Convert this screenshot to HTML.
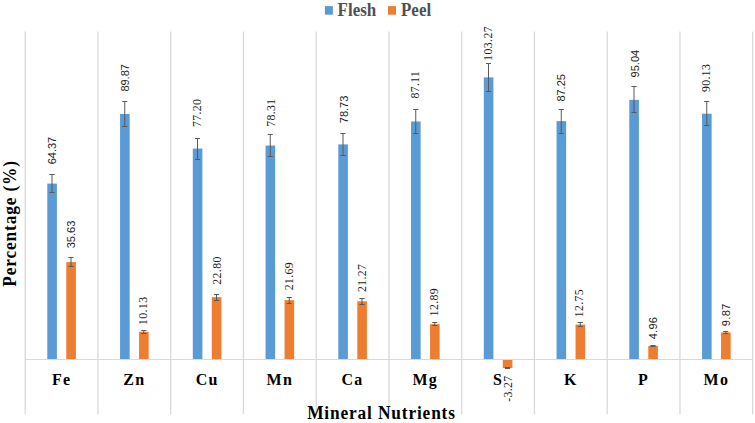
<!DOCTYPE html>
<html lang="en"><head><meta charset="utf-8"><title>Mineral Nutrients chart</title>
<style>html,body{margin:0;padding:0;background:#fff}svg{display:block}</style></head>
<body>
<svg width="755" height="423" viewBox="0 0 755 423">
<rect width="755" height="423" fill="#fff"/>
<g stroke="#D9D9D9" stroke-width="1.3" fill="none">
<line x1="25.20" y1="31.5" x2="25.20" y2="414.3"/>
<line x1="97.95" y1="31.5" x2="97.95" y2="414.3"/>
<line x1="170.70" y1="31.5" x2="170.70" y2="414.3"/>
<line x1="243.45" y1="31.5" x2="243.45" y2="414.3"/>
<line x1="316.20" y1="31.5" x2="316.20" y2="414.3"/>
<line x1="388.95" y1="31.5" x2="388.95" y2="414.3"/>
<line x1="461.70" y1="31.5" x2="461.70" y2="414.3"/>
<line x1="534.45" y1="31.5" x2="534.45" y2="414.3"/>
<line x1="607.20" y1="31.5" x2="607.20" y2="414.3"/>
<line x1="679.95" y1="31.5" x2="679.95" y2="414.3"/>
<line x1="752.70" y1="31.5" x2="752.70" y2="414.3"/>
<line x1="25.20" y1="359.5" x2="752.70" y2="359.5" stroke-width="1"/>
</g>
<rect x="47.30" y="183.61" width="9.6" height="175.39" fill="#5B9BD5"/>
<rect x="66.30" y="262.09" width="9.6" height="96.91" fill="#ED7D31"/>
<rect x="120.05" y="113.97" width="9.6" height="245.03" fill="#5B9BD5"/>
<rect x="139.05" y="331.73" width="9.6" height="27.27" fill="#ED7D31"/>
<rect x="192.80" y="148.57" width="9.6" height="210.43" fill="#5B9BD5"/>
<rect x="211.80" y="297.13" width="9.6" height="61.87" fill="#ED7D31"/>
<rect x="265.55" y="145.54" width="9.6" height="213.46" fill="#5B9BD5"/>
<rect x="284.55" y="300.16" width="9.6" height="58.84" fill="#ED7D31"/>
<rect x="338.30" y="144.39" width="9.6" height="214.61" fill="#5B9BD5"/>
<rect x="357.30" y="301.31" width="9.6" height="57.69" fill="#ED7D31"/>
<rect x="411.05" y="121.50" width="9.6" height="237.50" fill="#5B9BD5"/>
<rect x="430.05" y="324.20" width="9.6" height="34.80" fill="#ED7D31"/>
<rect x="483.80" y="77.37" width="9.6" height="281.63" fill="#5B9BD5"/>
<rect x="502.80" y="360" width="9.6" height="8.03" fill="#ED7D31"/>
<rect x="556.55" y="121.12" width="9.6" height="237.88" fill="#5B9BD5"/>
<rect x="575.55" y="324.58" width="9.6" height="34.42" fill="#ED7D31"/>
<rect x="629.30" y="99.85" width="9.6" height="259.15" fill="#5B9BD5"/>
<rect x="648.30" y="345.85" width="9.6" height="13.15" fill="#ED7D31"/>
<rect x="702.05" y="113.69" width="9.6" height="245.31" fill="#5B9BD5"/>
<rect x="721.05" y="332.45" width="9.6" height="26.55" fill="#ED7D31"/>
<g stroke="#595959" stroke-width="1" fill="none">
<path d="M52.00 174.50V192.50M49.45 174.50h5.1M49.45 192.50h5.1"/>
<path d="M71.00 257.50V266.50M68.45 257.50h5.1M68.45 266.50h5.1"/>
<path d="M124.75 101.50V126.50M122.20 101.50h5.1M122.20 126.50h5.1"/>
<path d="M143.75 330.50V333.50M141.20 330.50h5.1M141.20 333.50h5.1"/>
<path d="M197.50 138.50V159.50M194.95 138.50h5.1M194.95 159.50h5.1"/>
<path d="M216.50 294.50V300.50M213.95 294.50h5.1M213.95 300.50h5.1"/>
<path d="M270.25 134.50V156.50M267.70 134.50h5.1M267.70 156.50h5.1"/>
<path d="M289.25 297.50V303.50M286.70 297.50h5.1M286.70 303.50h5.1"/>
<path d="M343.00 133.50V155.50M340.45 133.50h5.1M340.45 155.50h5.1"/>
<path d="M362.00 298.50V304.50M359.45 298.50h5.1M359.45 304.50h5.1"/>
<path d="M415.75 109.50V133.50M413.20 109.50h5.1M413.20 133.50h5.1"/>
<path d="M434.75 322.50V325.50M432.20 322.50h5.1M432.20 325.50h5.1"/>
<path d="M488.50 63.50V91.50M485.95 63.50h5.1M485.95 91.50h5.1"/>
<path d="M507.50 367.50V368.50M504.95 367.50h5.1M504.95 368.50h5.1"/>
<path d="M561.25 109.50V133.50M558.70 109.50h5.1M558.70 133.50h5.1"/>
<path d="M580.25 322.50V326.50M577.70 322.50h5.1M577.70 326.50h5.1"/>
<path d="M634.00 86.50V112.50M631.45 86.50h5.1M631.45 112.50h5.1"/>
<path d="M653.00 345.50V346.50M650.45 345.50h5.1M650.45 346.50h5.1"/>
<path d="M706.75 101.50V125.50M704.20 101.50h5.1M704.20 125.50h5.1"/>
<path d="M725.75 331.50V333.50M723.20 331.50h5.1M723.20 333.50h5.1"/>
</g>
<g fill="#1c1c1c" text-anchor="middle">
<text font-family="'Liberation Sans', Arial, sans-serif" font-size="11" letter-spacing="0" transform="translate(55.80 150.55) rotate(-90)">64.37</text>
<text font-family="'Liberation Sans', Arial, sans-serif" font-size="11" letter-spacing="0" transform="translate(75.00 234.50) rotate(-90)">35.63</text>
<text font-family="'Liberation Sans', Arial, sans-serif" font-size="11" letter-spacing="0" transform="translate(128.65 77.85) rotate(-90)">89.87</text>
<text font-family="'Liberation Serif', 'Times New Roman', serif" font-size="11.8" letter-spacing="0.35" transform="translate(147.15 310.75) rotate(-90)">10.13</text>
<text font-family="'Liberation Serif', 'Times New Roman', serif" font-size="11.8" letter-spacing="0.35" transform="translate(201.15 112.85) rotate(-90)">77.20</text>
<text font-family="'Liberation Serif', 'Times New Roman', serif" font-size="11.8" letter-spacing="0.35" transform="translate(220.50 270.50) rotate(-90)">22.80</text>
<text font-family="'Liberation Serif', 'Times New Roman', serif" font-size="11.8" letter-spacing="0.35" transform="translate(274.85 112.65) rotate(-90)">78.31</text>
<text font-family="'Liberation Serif', 'Times New Roman', serif" font-size="11.8" letter-spacing="0.35" transform="translate(293.05 276.20) rotate(-90)">21.69</text>
<text font-family="'Liberation Sans', Arial, sans-serif" font-size="11" letter-spacing="0" transform="translate(347.55 109.45) rotate(-90)">78.73</text>
<text font-family="'Liberation Serif', 'Times New Roman', serif" font-size="11.8" letter-spacing="0.35" transform="translate(366.40 277.90) rotate(-90)">21.27</text>
<text font-family="'Liberation Serif', 'Times New Roman', serif" font-size="11.8" letter-spacing="0.35" transform="translate(419.20 84.65) rotate(-90) scale(1 1.08)">87.11</text>
<text font-family="'Liberation Serif', 'Times New Roman', serif" font-size="11.8" letter-spacing="0.35" transform="translate(437.85 302.20) rotate(-90)">12.89</text>
<text font-family="'Liberation Serif', 'Times New Roman', serif" font-size="11.8" letter-spacing="0.35" transform="translate(492.10 43.40) rotate(-90)">103.27</text>
<text font-family="'Liberation Serif', 'Times New Roman', serif" font-size="11.8" letter-spacing="0.35" transform="translate(511.70 388.60) rotate(-90)">-3.27</text>
<text font-family="'Liberation Sans', Arial, sans-serif" font-size="11" letter-spacing="0" transform="translate(564.90 87.85) rotate(-90)">87.25</text>
<text font-family="'Liberation Serif', 'Times New Roman', serif" font-size="11.8" letter-spacing="0.35" transform="translate(583.25 303.20) rotate(-90)">12.75</text>
<text font-family="'Liberation Sans', Arial, sans-serif" font-size="11" letter-spacing="0" transform="translate(638.55 63.65) rotate(-90)">95.04</text>
<text font-family="'Liberation Sans', Arial, sans-serif" font-size="11" letter-spacing="0.3" transform="translate(657.20 328.05) rotate(-90)">4.96</text>
<text font-family="'Liberation Serif', 'Times New Roman', serif" font-size="11.8" letter-spacing="0.35" transform="translate(710.30 77.85) rotate(-90)">90.13</text>
<text font-family="'Liberation Sans', Arial, sans-serif" font-size="11" letter-spacing="0.4" transform="translate(729.75 314.80) rotate(-90)">9.87</text>
</g>
<g font-family="'Liberation Serif', 'Times New Roman', serif" font-weight="bold" font-size="16" letter-spacing="1.2" fill="#000" text-anchor="middle">
<text transform="translate(61.58 384.8) scale(1 1.02)">Fe</text>
<text transform="translate(134.32 384.8) scale(1 1.02)">Zn</text>
<text transform="translate(207.07 384.8) scale(1 1.02)">Cu</text>
<text transform="translate(279.82 384.8) scale(1 1.02)">Mn</text>
<text transform="translate(352.57 384.8) scale(1 1.02)">Ca</text>
<text transform="translate(425.32 384.8) scale(1 1.02)">Mg</text>
<text transform="translate(498.07 384.8) scale(1 1.02)">S</text>
<text transform="translate(570.83 384.8) scale(1 1.02)">K</text>
<text transform="translate(643.58 384.8) scale(1 1.02)">P</text>
<text transform="translate(716.33 384.8) scale(1 1.02)">Mo</text>
</g>
<g font-family="'Liberation Serif', 'Times New Roman', serif" font-weight="bold" font-size="17.33" letter-spacing="0.85" fill="#000" text-anchor="middle">
<text transform="translate(381.5 419.1) scale(1 1.07)">Mineral Nutrients</text>
<text transform="translate(15.6 223.4) rotate(-90) scale(1 1.07)">Percentage (%)</text>
</g>
<rect x="324.9" y="6.1" width="8" height="8.6" fill="#5B9BD5"/>
<rect x="388.0" y="6.1" width="8" height="8.6" fill="#ED7D31"/>
<g font-family="'Liberation Serif', 'Times New Roman', serif" font-weight="bold" font-size="17" fill="#505050">
<text transform="translate(337.6 16.3) scale(1 1.11)">Flesh</text>
<text transform="translate(401.0 16.3) scale(1 1.11)">Peel</text>
</g>
</svg>
</body></html>
